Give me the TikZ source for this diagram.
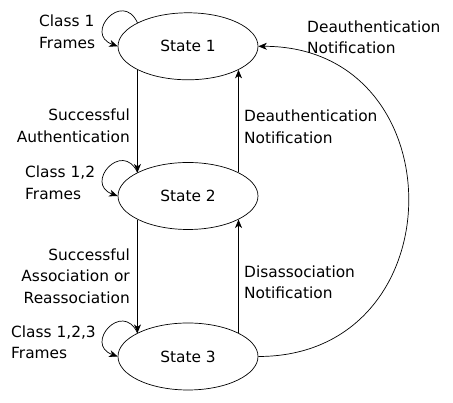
\documentclass[tikz,border=0pt]{standalone}
\usepackage{fontspec}
\setmainfont{DejaVu Sans}
\usetikzlibrary{arrows.meta,shapes.geometric}
\begin{document}
\begin{tikzpicture}[x=1pt,y=1pt,
  state/.style={ellipse,draw,line width=0.7pt,minimum width=140pt,minimum height=67pt,inner sep=0pt,font=\fontsize{15.4}{21.5}\selectfont},
  lbl/.style={inner sep=0pt,font=\fontsize{15.4}{21.5}\selectfont},
  arr/.style={line width=0.7pt,-{Stealth[length=8.5pt,width=7pt,inset=2.5pt]}}]
\useasboundingbox (0,0) rectangle (453,403);
\node[state] (s1) at (188,356.7) {State 1};
\node[state] (s2) at (188,207) {State 2};
\node[state] (s3) at (188,46.5) {State 3};
\node[lbl,anchor=west,align=left] (l1) at (39,371) {Class 1\\Frames};
\node[lbl,anchor=east,align=right] (l2) at (130,277) {Successful\\Authentication};
\node[lbl,anchor=west,align=left] (l3) at (25,220) {Class 1,2\\Frames};
\node[lbl,anchor=east,align=right] (l4) at (130,127) {Successful\\Association or\\Reassociation};
\node[lbl,anchor=west,align=left] (l5) at (11,60.5) {Class 1,2,3\\Frames};
\node[lbl,anchor=west,align=left] (l6) at (307,365.5) {Deauthentication\\Notification};
\node[lbl,anchor=west,align=left] (l7) at (244,276) {Deauthentication\\Notification};
\node[lbl,anchor=west,align=left] (l8) at (244,120.5) {Disassociation\\Notification};
\draw[arr] (s1.205) -- (s2.155);
\draw[arr] (s2.205) -- (s3.155);
\draw[arr] (s2.25) -- (s1.335);
\draw[arr] (s3.25) -- (s2.335);
\draw[arr] (s3.east) to[out=0,in=0,looseness=1.65] (s1.east);
\draw[arr] (s1.155) to[out=115,in=160,looseness=3] (s1.west);
\draw[arr] (s2.155) to[out=115,in=160,looseness=3] (s2.west);
\draw[arr] (s3.155) to[out=115,in=160,looseness=3] (s3.west);
\end{tikzpicture}
\end{document}
